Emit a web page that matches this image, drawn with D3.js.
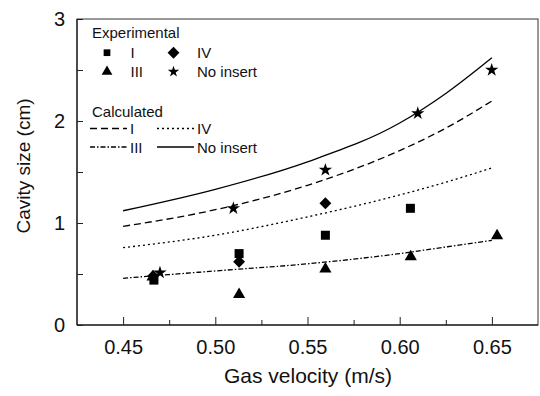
<!DOCTYPE html>
<html><head><meta charset="utf-8">
<script src="https://cdn.jsdelivr.net/npm/d3@7"></script>
<style>body{margin:0;background:#fff}svg{display:block;font-family:"Liberation Sans",Arial,sans-serif}</style>
</head><body>
<svg id="c" width="540" height="396"></svg>
<script>
// Experimental data
const expI = [[0.4667,0.44],[0.5129,0.70],[0.5597,0.88],[0.6058,1.144]];
const expIII = [[0.466,0.47],[0.5129,0.30],[0.5597,0.55],[0.606,0.67],[0.6528,0.876]];
const expIV = [[0.4663,0.48],[0.5129,0.62],[0.5597,1.193]];
const expNo = [[0.470,0.513],[0.5098,1.144],[0.5597,1.52],[0.6098,2.075],[0.6499,2.50]];
// Calculated curves
const calcI = [[0.45,0.967],[0.50,1.13],[0.55,1.37],[0.60,1.71],[0.625,1.93],[0.65,2.196]];
const calcIII = [[0.45,0.458],[0.50,0.53],[0.55,0.60],[0.60,0.70],[0.625,0.765],[0.65,0.83]];
const calcIV = [[0.45,0.758],[0.50,0.88],[0.55,1.06],[0.60,1.275],[0.625,1.40],[0.65,1.54]];
const calcNo = [[0.45,1.12],[0.50,1.33],[0.55,1.60],[0.60,1.98],[0.625,2.27],[0.65,2.62]];
const xTicks = [0.45,0.50,0.55,0.60,0.65];
const xMinor = [0.475,0.525,0.575,0.625];
const yTicks = [0,1,2,3];
const yMinor = [0.5,1.5,2.5];

const svg = d3.select("#c");
const L=77,R=538,T=19,B=325;
const x = d3.scaleLinear().domain([0.425,0.675]).range([L,R]);
const y = d3.scaleLinear().domain([0,3]).range([B,T]);

// frame
svg.append("rect").attr("x",L).attr("y",T).attr("width",R-L).attr("height",B-T)
  .attr("fill","none").attr("stroke","#333").attr("stroke-width",1);
svg.append("path").attr("d",`M${L},${T}V${B}H${R}`).attr("fill","none").attr("stroke","#000");

// x axis
const gx = svg.append("g").attr("transform",`translate(0,${B})`)
  .call(d3.axisBottom(x).tickValues(xTicks).tickFormat(d3.format(".2f")).tickSizeInner(-8).tickSizeOuter(0).tickPadding(15));
gx.select(".domain").remove();
gx.selectAll("text").attr("font-size",20).attr("fill","#111").attr("font-family","Liberation Sans, Arial, sans-serif");
gx.selectAll("line").attr("stroke","#222");
const gxm = svg.append("g").attr("transform",`translate(0,${B})`)
  .call(d3.axisBottom(x).tickValues(xMinor).tickFormat("").tickSizeInner(-5).tickSizeOuter(0));
gxm.select(".domain").remove();
gxm.selectAll("line").attr("stroke","#222");

// y axis
const gy = svg.append("g").attr("transform",`translate(${L},0)`)
  .call(d3.axisLeft(y).tickValues(yTicks).tickFormat(d3.format("d")).tickSizeInner(-6).tickSizeOuter(0).tickPadding(12));
gy.select(".domain").remove();
gy.selectAll("text").attr("font-size",20).attr("fill","#111").attr("font-family","Liberation Sans, Arial, sans-serif");
gy.selectAll("line").attr("stroke","#222");
const gym = svg.append("g").attr("transform",`translate(${L},0)`)
  .call(d3.axisLeft(y).tickValues(yMinor).tickFormat("").tickSizeInner(-6).tickSizeOuter(0));
gym.select(".domain").remove();
gym.selectAll("line").attr("stroke","#222");

// axis titles
svg.append("text").attr("x",308).attr("y",383).attr("text-anchor","middle")
  .attr("font-size",21).attr("fill","#111").text("Gas velocity (m/s)");
svg.append("text").attr("transform",`translate(30,166) rotate(-90)`).attr("text-anchor","middle")
  .attr("font-size",19).attr("fill","#111").text("Cavity size (cm)");

// curves
const line = d3.line().x(d=>x(d[0])).y(d=>y(d[1])).curve(d3.curveMonotoneX);
const styles = {
  I:"7,4", IV:"2,3", III:"5,2,1.5,2", No:null
};
[[calcI,styles.I],[calcIV,styles.IV],[calcIII,styles.III],[calcNo,styles.No]].forEach(([d,dash])=>{
  svg.append("path").datum(d).attr("d",line).attr("fill","none").attr("stroke","#000")
    .attr("stroke-width",1.3).attr("stroke-dasharray",dash);
});

// markers
const sym = {
  I: d3.symbol().type(d3.symbolSquare).size(81),
  III: d3.symbol().type(d3.symbolTriangle).size(64),
  IV: d3.symbol().type(d3.symbolDiamond2).size(90),
  No: d3.symbol().type(d3.symbolStar).size(55)
};
function plot(data,s){
  svg.append("g").selectAll("path").data(data).join("path")
    .attr("transform",d=>`translate(${x(d[0])},${y(d[1])})`)
    .attr("d",s).attr("fill","#000");
}
plot(expIII,sym.III); plot(expIV,sym.IV); plot(expI,sym.I); plot(expNo,sym.No);

// legend
const lg = svg.append("g").attr("font-size",15).attr("fill","#111");
lg.append("text").attr("x",92).attr("y",38).text("Experimental");
const lsym = {
  I: d3.symbol().type(d3.symbolSquare).size(45),
  III: d3.symbol().type(d3.symbolTriangle).size(50),
  IV: d3.symbol().type(d3.symbolDiamond2).size(90),
  No: d3.symbol().type(d3.symbolStar).size(40)
};
[[107,52.7,"I",lsym.I],[173.5,52.7,"IV",lsym.IV],[107,71.7,"III",lsym.III],[173.5,71.7,"No insert",lsym.No]].forEach(([cx,cy,t,s])=>{
  lg.append("path").attr("transform",`translate(${cx},${cy})`).attr("d",s).attr("fill","#000");
  lg.append("text").attr("x",cx+23.5).attr("y",cy+5.5).text(t);
});
lg.append("text").attr("x",92).attr("y",116.5).text("Calculated");
[[90,128.5,"I",styles.I],[157,128.5,"IV",styles.IV],[90,147,"III",styles.III],[157,147,"No insert",styles.No]].forEach(([lx,ly,t,dash])=>{
  lg.append("line").attr("x1",lx).attr("x2",lx+37).attr("y1",ly).attr("y2",ly)
    .attr("stroke","#000").attr("stroke-width",1.3).attr("stroke-dasharray",dash);
  lg.append("text").attr("x",lx+40).attr("y",ly+5.5).text(t);
});
</script>
</body></html>
